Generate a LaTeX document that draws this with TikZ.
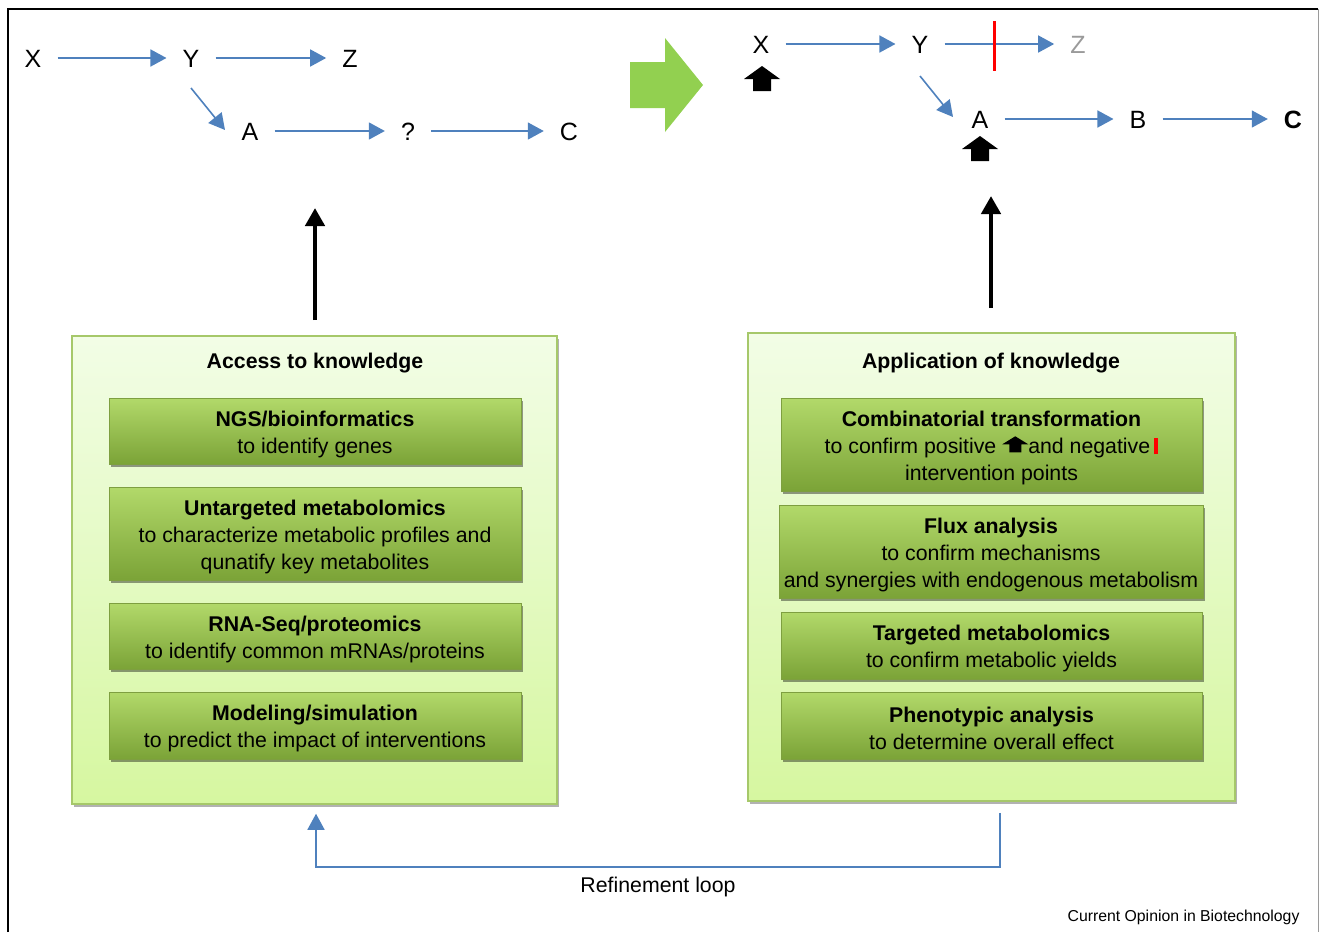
\documentclass[tikz,border=0pt]{standalone}
\usepackage{fontspec}
\setmainfont{Liberation Sans}
\usetikzlibrary{arrows.meta,shadows,calc}
\definecolor{pblue}{HTML}{4F81BD}
\definecolor{bigGreen}{HTML}{92D050}
\definecolor{panelTop}{HTML}{F2FDE6}
\definecolor{panelBot}{HTML}{D6F7A0}
\definecolor{panelEdge}{HTML}{A6C86A}
\definecolor{boxTop}{HTML}{B2D96A}
\definecolor{boxBot}{HTML}{7BA337}
\definecolor{boxEdge}{HTML}{7E9F40}
\definecolor{zgray}{HTML}{9A9A9A}
\newcommand{\firststrut}{\rule{0pt}{22pt}}
\begin{document}
\begin{tikzpicture}[x=1pt,y=-1pt,
  letter/.style={font=\fontsize{25}{25}\selectfont, inner xsep=16pt, inner ysep=4pt, text height=18pt, text depth=0pt},
  barrow/.style={draw=pblue, line width=1.6pt, -{Triangle[length=16pt,width=17pt]}},
  karrow/.style={draw=black, line width=4.5pt, -{Triangle[length=18pt,width=19pt]}},
  panel/.style={draw=panelEdge, line width=1.5pt, top color=panelTop, bottom color=panelBot,
     drop shadow={shadow xshift=2pt, shadow yshift=-3pt, opacity=0.3, fill=black}},
  ibox/.style={draw=boxEdge, line width=0.8pt, top color=boxTop, bottom color=boxBot, align=center,
     font=\fontsize{21.3}{27}\selectfont, inner sep=0pt,
     drop shadow={shadow xshift=2pt, shadow yshift=-3pt, opacity=0.4, fill=black}},
  ptitle/.style={font=\fontsize{21.3}{24}\selectfont\bfseries},
  uparrow/.pic={\fill[black] (-18,13) -- (0,0) -- (18,13) -- (9,13) -- (9,25) -- (-9,25) -- (-9,13) -- cycle;}
]
\useasboundingbox (0,0) rectangle (1319,932);
% frame
\draw[black, line width=1.5pt] (8,932) -- (8,9) -- (1318,9);
\draw[zgray, line width=1pt] (1318,9) -- (1318,932);

% left pathway
\node[letter] (lX) at (33,58) {X};
\node[letter] (lY) at (191,58) {Y};
\node[letter] (lZ) at (350,58) {Z};
\node[letter] (lA) at (250,131) {A};
\node[letter] (lQ) at (408,131) {?};
\node[letter] (lC) at (569,131) {C};
\draw[barrow] (lX.east) -- (lY.west);
\draw[barrow] (lY.east) -- (lZ.west);
\draw[barrow] (lA.east) -- (lQ.west);
\draw[barrow] (lQ.east) -- (lC.west);
\draw[barrow] ($(lY.center)+(0,30)$) -- ($(lA.center)+(-25,-1)$);

% big green arrow
\fill[bigGreen] (630,62) -- (665,62) -- (665,38) -- (703,85) -- (665,132) -- (665,108) -- (630,108) -- cycle;

% right pathway
\node[letter] (rX) at (761,44) {X};
\node[letter] (rY) at (920,44) {Y};
\node[letter, text=zgray] (rZ) at (1078,44) {Z};
\node[letter] (rA) at (980,119) {A};
\node[letter] (rB) at (1138,119) {B};
\node[letter, font=\fontsize{25}{25}\selectfont\bfseries] (rC) at (1293,119) {C};
\draw[barrow] (rX.east) -- (rY.west);
\draw[barrow] (rY.east) -- (rZ.west);
\draw[barrow] (rA.east) -- (rB.west);
\draw[barrow] (rB.east) -- (rC.west);
\draw[barrow] ($(rY.center)+(0,32)$) -- ($(rA.center)+(-27,-2)$);
\coordinate (inh) at ($(rY.east)!0.46!(rZ.west)$);
\draw[red, line width=3pt] ($(inh)+(0,-23)$) -- ($(inh)+(0,27)$);
\pic at ($(rX.center)+(1,22)$) {uparrow};
\pic at ($(rA.center)+(0,17)$) {uparrow};

% panels
\node[panel, minimum width=485pt, minimum height=468pt] (lp) at (314.5,570) {};
\node[panel, minimum width=487pt, minimum height=468pt] (rp) at (991.5,567) {};
\node[ptitle] (lpt) at (315,363) {Access to knowledge};
\node[ptitle] (rpt) at (991,363) {Application of knowledge};

% black arrows up
\coordinate (la0) at (315,320);
\coordinate (la1) at (315,208);
\coordinate (ra0) at (991,308);
\coordinate (ra1) at (991,196);
\draw[karrow] (la0) -- (la1);
\draw[karrow] (ra0) -- (ra1);

% left inner boxes
\node[ibox, minimum width=412pt, minimum height=66pt] (l1) at (315,431) {\firststrut\textbf{NGS/bioinformatics}\\to identify genes};
\node[ibox, minimum width=412pt, minimum height=93pt] (l2) at (315,533.5) {\firststrut\textbf{Untargeted metabolomics}\\to characterize metabolic profiles and\\qunatify key metabolites};
\node[ibox, minimum width=412pt, minimum height=66pt] (l3) at (315,636) {\firststrut\textbf{RNA-Seq/proteomics}\\to identify common mRNAs/proteins};
\node[ibox, minimum width=412pt, minimum height=67pt] (l4) at (315,725.5) {\firststrut\textbf{Modeling/simulation}\\to predict the impact of interventions};

% right inner boxes
\node[ibox, minimum width=421pt, minimum height=93pt] (r1) at (991.5,444.5) {\firststrut\textbf{Combinatorial transformation}\\to confirm positive \tikz[baseline=-1pt,x=1pt,y=1pt]{\fill[black] (-13,8) -- (0,16) -- (13,8) -- (6,8) -- (6,0) -- (-6,0) -- (-6,8) -- cycle;}and negative\,\textcolor{red}{\rule[-1pt]{4.5pt}{16pt}}\\intervention points};
\node[ibox, minimum width=424pt, minimum height=93pt] (r2) at (991,551.5) {\firststrut\textbf{Flux analysis}\\to confirm mechanisms\\and synergies with endogenous metabolism};
\node[ibox, minimum width=421pt, minimum height=67pt] (r3) at (991.5,645.5) {\firststrut\textbf{Targeted metabolomics}\\to confirm metabolic yields};
\node[ibox, minimum width=421pt, minimum height=67pt] (r4) at (991.5,725.5) {\firststrut\textbf{Phenotypic analysis}\\to determine overall effect};

% refinement loop
\coordinate (rl0) at ($(rp.south)+(8.5,11)$);
\coordinate (rl1) at ($(lp.south)+(1.5,9)$);
\draw[barrow] (rl0) -- ($(rl0)+(0,54)$) -| (rl1);
\node[font=\fontsize{21.3}{24}\selectfont] (rlt) at (658,887) {Refinement loop};

\node[font=\fontsize{15.8}{16}\selectfont, anchor=east] (cob) at (1303,917) {Current Opinion in Biotechnology};
\end{tikzpicture}
\end{document}
